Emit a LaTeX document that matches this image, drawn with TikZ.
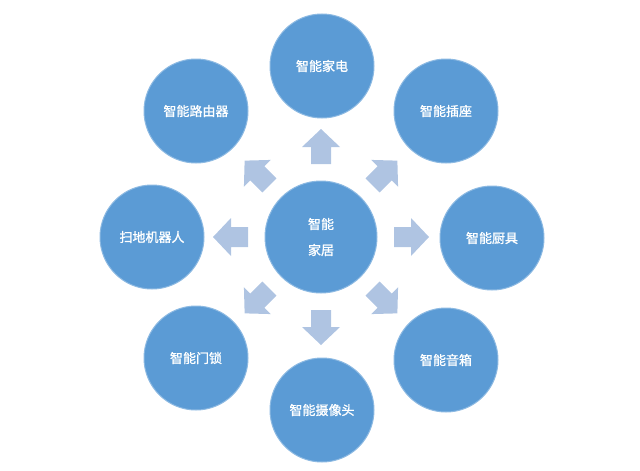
\documentclass[tikz,border=0pt]{standalone}
\usepackage{fontspec}
\newfontfamily\cjk[FakeBold=1.2]{Noto Sans CJK SC}
\definecolor{circ}{HTML}{5B9BD5}
\definecolor{arr}{HTML}{AFC4E2}
\begin{document}
\begin{tikzpicture}[x=1pt,y=-1pt,
  bub/.style={circle,fill=circ,draw=circ!70!white,line width=1pt,minimum size=104pt,inner sep=0pt,text=white,font=\cjk\fontsize{13}{26}\selectfont,align=center},
  blk/.style={fill=arr,draw=none}]
\useasboundingbox (0,0) rectangle (640,471);
\node[bub,minimum size=112pt] (c) at (321,237) {智能\\家居};
\node[bub] (n1) at (322,66) {智能家电};
\node[bub] (n2) at (446,111) {智能插座};
\node[bub] (n3) at (492,238) {智能厨具};
\node[bub] (n4) at (446,360) {智能音箱};
\node[bub] (n5) at (322,410) {智能摄像头};
\node[bub] (n6) at (196,358) {智能门锁};
\node[bub] (n7) at (152,237) {扫地机器人};
\node[bub] (n8) at (196,111) {智能路由器};
\foreach \a in {0,45,...,315}{
  \begin{scope}[shift={(c)},rotate=\a,shift={(90,0)}]
    \fill[blk] (-17,-10) -- (0,-10) -- (0,-19) -- (18,0) -- (0,19) -- (0,10) -- (-17,10) -- cycle;
  \end{scope}}
\end{tikzpicture}
\end{document}
